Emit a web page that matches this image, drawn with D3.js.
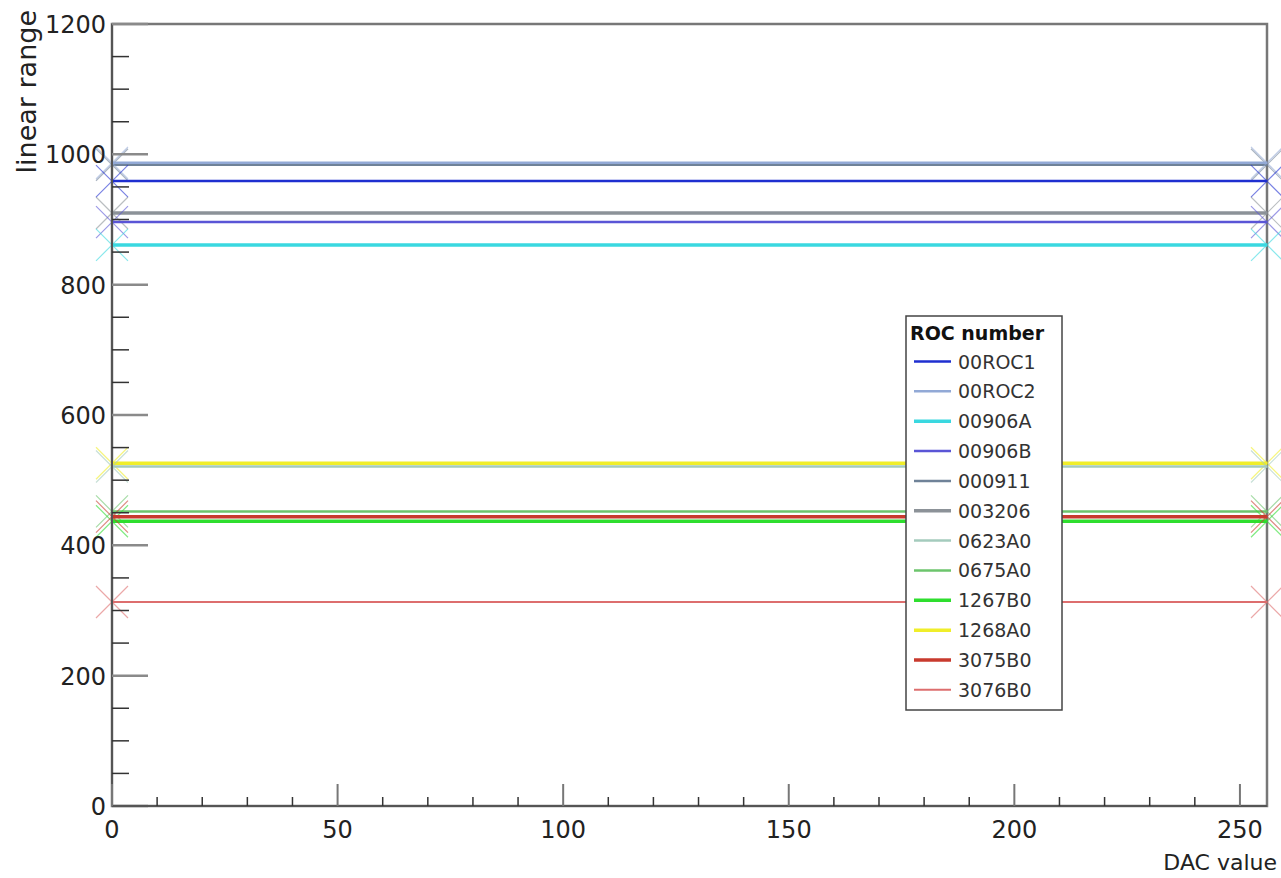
<!DOCTYPE html>
<html>
<head>
<meta charset="utf-8">
<script src="https://cdn.jsdelivr.net/npm/d3@7"></script>
<style>
  html, body { margin: 0; padding: 0; background: #fff; }
  svg { display: block; font-family: "DejaVu Sans", "Liberation Sans", Arial, sans-serif; }
</style>
</head>
<body>
<svg id="chart" width="1281" height="878"></svg>
<script>
// ROC identifiers, in legend order
const rocNames = ["00ROC1", "00ROC2", "00906A", "00906B", "000911", "003206",
                  "0623A0", "0675A0", "1267B0", "1268A0", "3075B0", "3076B0"];
// Linear range of each ROC (constant over the DAC scan)
const linearRange = [959, 987, 861, 896, 984, 910, 521, 452, 437, 526, 444, 313];
// DAC scan endpoints where points were measured
const dacPoints = [0, 256];
const rocColors = ["#1f2fd0", "#92a9d6", "#3ad8e0", "#5a55d6", "#6f8298", "#8c9298",
                   "#a4cbbd", "#6cc56c", "#2ede2e", "#f0ee2a", "#c83a2e", "#dd6e6e"];
const rocWidths = [2.5, 2.5, 3.5, 2.5, 2.5, 3.5, 2.5, 2.5, 3.5, 3.5, 3.5, 2];
const xTicks = [0, 50, 100, 150, 200, 250];
const yTicks = [0, 200, 400, 600, 800, 1000, 1200];

const svg = d3.select("#chart");
const plotL = 112, plotR = 1267, plotT = 24, plotB = 806;
const x = d3.scaleLinear().domain([0, 256]).range([plotL, plotR]);
const y = d3.scaleLinear().domain([0, 1200]).range([plotB, plotT]);

// Frame
svg.append("rect").attr("x", plotL).attr("y", plotT)
  .attr("width", plotR - plotL).attr("height", plotB - plotT)
  .attr("fill", "none").attr("stroke", "#777").attr("stroke-width", 2.5);

// Series lines and X markers
const series = rocNames.map((n, i) => ({name: n, value: linearRange[i], color: rocColors[i], w: rocWidths[i]}));
const order = [4, 1, 5, 0, 3, 2, 9, 6, 7, 8, 10, 11];
const g = svg.append("g");
order.forEach(i => {
  const s = series[i];
  g.append("line")
    .attr("x1", x(dacPoints[0])).attr("x2", x(dacPoints[1]))
    .attr("y1", y(s.value)).attr("y2", y(s.value))
    .attr("stroke", s.color).attr("stroke-width", s.w);
  const m = 16;
  dacPoints.forEach(d => {
    const cx = x(d), cy = y(s.value);
    g.append("path")
      .attr("d", `M${cx - m},${cy - m}L${cx + m},${cy + m}M${cx - m},${cy + m}L${cx + m},${cy - m}`)
      .attr("stroke", s.color).attr("stroke-width", 1.2).attr("opacity", 0.6).attr("fill", "none");
  });
});

// Y axis
const yAxis = svg.append("g");
yAxis.append("line").attr("x1", plotL).attr("x2", plotL).attr("y1", plotT).attr("y2", plotB)
  .attr("stroke", "#555").attr("stroke-width", 2);
d3.range(0, 1201, 50).forEach(v => {
  const major = v % 200 === 0;
  yAxis.append("line")
    .attr("x1", plotL).attr("x2", plotL + (major ? 36 : 17))
    .attr("y1", y(v)).attr("y2", y(v))
    .attr("stroke", major ? "#8a8a8a" : "#333").attr("stroke-width", major ? 2.5 : 1.5);
});
yAxis.selectAll("text.yt").data(yTicks).join("text")
  .attr("x", plotL - 6).attr("y", d => y(d) + 9)
  .attr("text-anchor", "end").attr("font-size", 24).attr("fill", "#222")
  .text(d => d);

// X axis
const xAxis = svg.append("g");
xAxis.append("line").attr("x1", plotL).attr("x2", plotR).attr("y1", plotB).attr("y2", plotB)
  .attr("stroke", "#555").attr("stroke-width", 2);
d3.range(0, 256, 10).forEach(v => {
  const major = v % 50 === 0;
  xAxis.append("line")
    .attr("x1", x(v)).attr("x2", x(v))
    .attr("y1", plotB).attr("y2", plotB - (major ? 22 : 9))
    .attr("stroke", major ? "#777" : "#333").attr("stroke-width", major ? 2 : 1.5);
});
xAxis.selectAll("text.xt").data(xTicks).join("text")
  .attr("x", d => x(d)).attr("y", plotB + 32)
  .attr("text-anchor", "middle").attr("font-size", 24).attr("fill", "#222")
  .text(d => d);

// Axis titles
svg.append("text").attr("x", 1277).attr("y", 870)
  .attr("text-anchor", "end").attr("font-size", 22).attr("fill", "#222").text("DAC value");
svg.append("text").attr("transform", "translate(36,10) rotate(-90)")
  .attr("text-anchor", "end").attr("font-size", 27).attr("fill", "#222").text("linear range");

// Legend
const lg = svg.append("g").attr("transform", "translate(906,316)");
lg.append("rect").attr("width", 156).attr("height", 394)
  .attr("fill", "#fff").attr("stroke", "#444").attr("stroke-width", 1.5);
lg.append("text").attr("x", 4).attr("y", 24).attr("font-size", 19).attr("font-weight", "bold")
  .attr("fill", "#111").text("ROC number");
series.forEach((s, i) => {
  const yy = 45.5 + i * 29.85;
  lg.append("line").attr("x1", 8).attr("x2", 45).attr("y1", yy).attr("y2", yy)
    .attr("stroke", s.color).attr("stroke-width", s.w);
  lg.append("text").attr("x", 52).attr("y", yy + 7).attr("font-size", 19)
    .attr("fill", "#333").text(s.name);
});
</script>
</body>
</html>
